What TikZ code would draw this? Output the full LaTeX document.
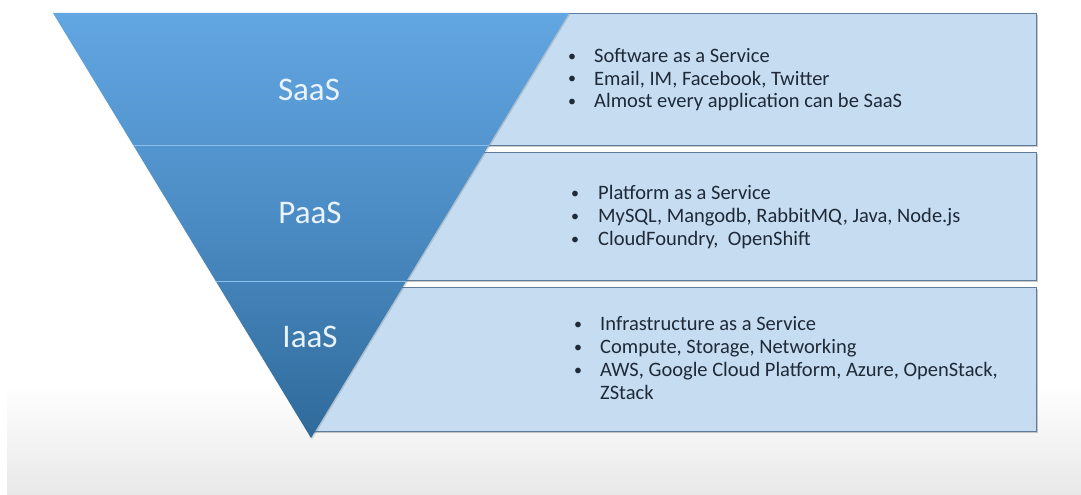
\documentclass[tikz,border=0pt]{standalone}
\usepackage{fontspec}
\setmainfont{Carlito}
\usetikzlibrary{shadows,calc}
\definecolor{tritop}{HTML}{62A6E2}
\definecolor{trimid}{HTML}{4B8BC3}
\definecolor{tribot}{HTML}{2F6A9A}
\definecolor{divline}{HTML}{8CC0EC}
\definecolor{boxfill}{HTML}{C6DCF0}
\definecolor{boxline}{HTML}{5E7C9A}
\definecolor{bodytext}{HTML}{1E2A38}
\definecolor{labeltext}{HTML}{EAF3FB}
\definecolor{floorgray}{HTML}{E8E8E8}
\tikzset{
  infobox/.style={draw=boxline, fill=boxfill, line width=1.2pt, inner sep=0pt,
    anchor=north west,
    drop shadow={shadow xshift=1.6pt, shadow yshift=-1.6pt, opacity=0.35, fill=black!60}},
  tierlabel/.style={text=labeltext, font=\fontsize{33}{38}\selectfont, anchor=base, inner sep=0pt},
  bultext/.style={text=bodytext, font=\fontsize{20.5}{24}\selectfont, anchor=base west, inner sep=0pt},
  bulmark/.style={text=bodytext, font=\fontsize{16}{19}\selectfont, anchor=base, inner sep=0pt},
  divider/.style={draw=divline, line width=1.3pt}
}
\begin{document}
\begin{tikzpicture}[x=1pt,y=-1pt]
\useasboundingbox (0,0) rectangle (1081,495);
% background floor
\fill[white] (0,0) rectangle (1081,495);
\shade[top color=white, bottom color=floorgray] (7,385) rectangle (1081,495);

% info boxes
\node[infobox, minimum width=706pt, minimum height=132pt] (saasbox) at (330,13) {};
\node[infobox, minimum width=706pt, minimum height=128pt] (paasbox) at (330,152) {};
\node[infobox, minimum width=725pt, minimum height=144pt] (iaasbox) at (311,287) {};

% triangle
\coordinate (tl) at (53,13);
\coordinate (tr) at (569,13);
\coordinate (ap) at (311,438);
\shade[top color=tritop, bottom color=tribot, middle color=trimid,
  drop shadow={shadow xshift=1pt, shadow yshift=-1.5pt, opacity=0.25, fill=black!60}]
  (tl) -- (tr) -- (ap) -- cycle;
\coordinate (d1l) at ($(tl)!0.3118!(ap)$);
\coordinate (d1r) at ($(tr)!0.3118!(ap)$);
\coordinate (d2l) at ($(tl)!0.6318!(ap)$);
\coordinate (d2r) at ($(tr)!0.6318!(ap)$);
\draw[divider] (d1l) -- (d1r);
\draw[divider] (d2l) -- (d2r);

% tier labels
\node[tierlabel] (saas) at (309,100) {SaaS};
\node[tierlabel] (paas) at (310,223) {PaaS};
\node[tierlabel] (iaas) at (310,347) {IaaS};

% SaaS bullets
\node[bulmark] (sb1) at (572,62) {•};
\node[bultext] (st1) at (594,63) {Software as a Service};
\node[bulmark] (sb2) at (572,84) {•};
\node[bultext] (st2) at (594,85) {Email, IM, Facebook, Twitter};
\node[bulmark] (sb3) at (572,106) {•};
\node[bultext] (st3) at (594,107) {Almost every application can be SaaS};

% PaaS bullets
\node[bulmark] (pb1) at (575,198) {•};
\node[bultext] (pt1) at (598,199) {Platform as a Service};
\node[bulmark] (pb2) at (575,221) {•};
\node[bultext] (pt2) at (598,222) {MySQL, Mangodb, RabbitMQ, Java, Node.js};
\node[bulmark] (pb3) at (575,244) {•};
\node[bultext] (pt3) at (598,245) {CloudFoundry,\ \ OpenShift};

% IaaS bullets
\node[bulmark] (ib1) at (578,329) {•};
\node[bultext] (it1) at (600,330) {Infrastructure as a Service};
\node[bulmark] (ib2) at (578,352) {•};
\node[bultext] (it2) at (600,353) {Compute, Storage, Networking};
\node[bulmark] (ib3) at (578,375) {•};
\node[bultext] (it3) at (600,376) {AWS, Google Cloud Platform, Azure, OpenStack,};
\node[bultext] (it4) at (600,399) {ZStack};
\end{tikzpicture}
\end{document}
